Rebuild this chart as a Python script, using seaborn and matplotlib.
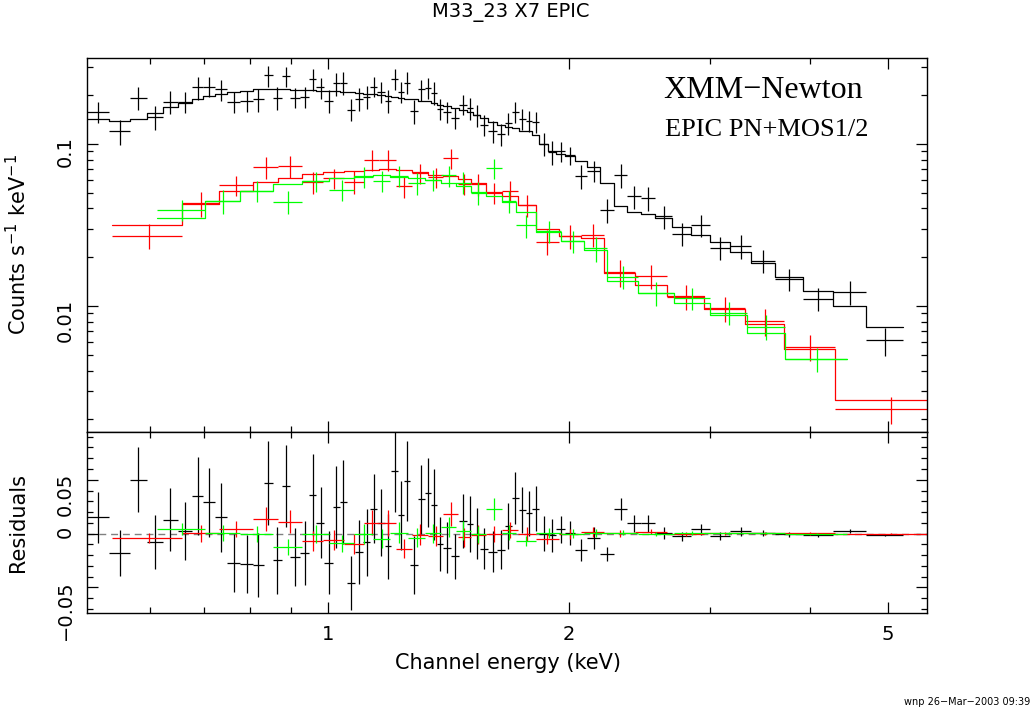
import numpy as np
import matplotlib
matplotlib.use("Agg")
import matplotlib.pyplot as plt
import seaborn as sns
from matplotlib.ticker import NullFormatter

# EPIC pn (black): bin centres (keV), rate (counts/s/keV), 1-sigma error, folded model
pn_energy = [0.516, 0.550, 0.581, 0.608, 0.635, 0.663, 0.688, 0.710, 0.735, 0.763,
             0.792, 0.820, 0.842, 0.864, 0.886, 0.909, 0.936, 0.958, 0.977, 1.003,
             1.026, 1.044, 1.068, 1.096, 1.119, 1.141, 1.165, 1.188, 1.212, 1.237,
             1.255, 1.280, 1.310, 1.333, 1.356, 1.380, 1.408, 1.440, 1.478, 1.504,
             1.535, 1.566, 1.607, 1.644, 1.683, 1.712, 1.752, 1.782, 1.813, 1.861,
             1.904, 1.954, 2.005, 2.070, 2.142, 2.236, 2.322, 2.410, 2.508, 2.619,
             2.766, 2.922, 3.086, 3.279, 3.482, 3.752, 4.090, 4.459, 4.960]
pn_rate = [0.158, 0.120, 0.193, 0.147, 0.182, 0.182, 0.223, 0.226, 0.217, 0.182,
           0.185, 0.188, 0.265, 0.193, 0.261, 0.193, 0.196, 0.250, 0.223, 0.185,
           0.236, 0.239, 0.163, 0.190, 0.196, 0.226, 0.210, 0.185, 0.253, 0.210,
           0.239, 0.160, 0.217, 0.222, 0.207, 0.165, 0.158, 0.145, 0.175, 0.167,
           0.151, 0.131, 0.120, 0.115, 0.135, 0.158, 0.143, 0.139, 0.137, 0.100,
           0.0892, 0.0905, 0.0854, 0.0633, 0.0680, 0.0389, 0.0642, 0.0475, 0.0462, 0.0357,
           0.0280, 0.0314, 0.0229, 0.0236, 0.0190, 0.0147, 0.0111, 0.0122, 0.00615]
pn_error = [0.024, 0.021, 0.030, 0.025, 0.029, 0.027, 0.036, 0.032, 0.032, 0.027,
            0.027, 0.030, 0.039, 0.031, 0.038, 0.027, 0.030, 0.038, 0.033, 0.029,
            0.038, 0.039, 0.025, 0.030, 0.031, 0.032, 0.031, 0.030, 0.038, 0.032,
            0.037, 0.027, 0.032, 0.032, 0.033, 0.025, 0.024, 0.021, 0.025, 0.026,
            0.024, 0.019, 0.019, 0.018, 0.021, 0.024, 0.021, 0.021, 0.021, 0.016,
            0.015, 0.013, 0.011, 0.0105, 0.010, 0.0066, 0.0105, 0.0078, 0.0078, 0.0058,
            0.0045, 0.0049, 0.0037, 0.0040, 0.0031, 0.0023, 0.0018, 0.0020, 0.0012]
pn_model = [0.143, 0.138, 0.143, 0.155, 0.169, 0.180, 0.188, 0.197, 0.202, 0.209,
            0.213, 0.217, 0.218, 0.218, 0.217, 0.215, 0.214, 0.214, 0.213, 0.212,
            0.211, 0.210, 0.209, 0.207, 0.204, 0.203, 0.200, 0.197, 0.195, 0.193,
            0.190, 0.189, 0.185, 0.184, 0.180, 0.175, 0.171, 0.166, 0.163, 0.158,
            0.151, 0.145, 0.137, 0.130, 0.128, 0.125, 0.121, 0.120, 0.114, 0.100,
            0.0909, 0.0867, 0.0846, 0.0784, 0.0723, 0.0578, 0.0414, 0.0380, 0.0367, 0.0350,
            0.0306, 0.0276, 0.0247, 0.0214, 0.0184, 0.0152, 0.01245, 0.0100, 0.00737]

# MOS1 (red): bin edges (keV), rate, error, model
mos1_edges = [0.5375, 0.6574, 0.7308, 0.8064, 0.8662, 0.9280, 0.9857, 1.047, 1.109, 1.158,
              1.216, 1.273, 1.333, 1.392, 1.453, 1.508, 1.575, 1.649, 1.726, 1.818,
              1.942, 2.070, 2.211, 2.417, 2.650, 2.948, 3.317, 3.710, 4.296, 5.800]
mos1_rate = [0.0272, 0.0430, 0.0556, 0.0716, 0.0727, 0.0583, 0.0615, 0.0586, 0.0796, 0.0796,
             0.0551, 0.0658, 0.0624, 0.0815, 0.0570, 0.0564, 0.0501, 0.0513, 0.0418, 0.0250,
             0.0269, 0.0276, 0.0161, 0.0154, 0.0114, 0.00967, 0.00807, 0.00559, 0.00231]
mos1_error = [0.0048, 0.0078, 0.0078, 0.011, 0.011, 0.009, 0.009, 0.0095, 0.012, 0.012,
              0.0085, 0.0095, 0.009, 0.011, 0.0085, 0.0085, 0.0075, 0.0075, 0.0065, 0.0045,
              0.0045, 0.0045, 0.0030, 0.0026, 0.0020, 0.0017, 0.0015, 0.0010, 0.00045]
mos1_model = [0.0314, 0.0428, 0.0513, 0.0583, 0.0615, 0.0651, 0.0673, 0.0683, 0.0693, 0.0700,
              0.0690, 0.0667, 0.0645, 0.0630, 0.0606, 0.0573, 0.0506, 0.0477, 0.0420, 0.0300,
              0.0272, 0.0262, 0.0160, 0.0135, 0.0116, 0.00958, 0.00775, 0.00546, 0.00263]

# MOS2 (green)
mos2_edges = [0.6116, 0.7021, 0.7766, 0.8538, 0.9280, 1.003, 1.078, 1.138, 1.195, 1.259,
              1.322, 1.384, 1.445, 1.508, 1.575, 1.649, 1.717, 1.818, 1.954, 2.088,
              2.230, 2.438, 2.704, 2.999, 3.336, 3.720, 4.446]
mos2_rate = [0.0393, 0.0445, 0.0513, 0.0441, 0.0589, 0.0523, 0.0626, 0.0592, 0.0636, 0.0573,
             0.0600, 0.0640, 0.0578, 0.0501, 0.0706, 0.0445, 0.0314, 0.0290, 0.0251, 0.0228,
             0.0152, 0.0120, 0.0112, 0.00909, 0.00744, 0.00473]
mos2_error = [0.0060, 0.0074, 0.0075, 0.0074, 0.0085, 0.0080, 0.0095, 0.0090, 0.0095, 0.0090,
              0.0090, 0.0095, 0.0090, 0.0080, 0.0100, 0.0070, 0.0050, 0.0045, 0.0040, 0.0040,
              0.0025, 0.0020, 0.0018, 0.0015, 0.0013, 0.0008]
mos2_model = [0.0350, 0.0443, 0.0513, 0.0564, 0.0592, 0.0615, 0.0630, 0.0640, 0.0626, 0.0612,
              0.0598, 0.0578, 0.0551, 0.0506, 0.0477, 0.0438, 0.0382, 0.0287, 0.0253, 0.0223,
              0.0143, 0.0121, 0.0105, 0.0088, 0.00683, 0.00471]

x_major = [1, 2, 5]
x_minor = [0.6, 0.7, 0.8, 0.9, 3, 4]
rate_major = [0.01, 0.1]
rate_minor = [0.002, 0.003, 0.004, 0.005, 0.006, 0.007, 0.008, 0.009,
              0.02, 0.03, 0.04, 0.05, 0.06, 0.07, 0.08, 0.09, 0.2, 0.3]
res_major = [-0.05, 0, 0.05]
res_minor = [-0.07, -0.06, -0.04, -0.03, -0.02, -0.01, 0.01, 0.02, 0.03, 0.04, 0.06, 0.07, 0.08, 0.09]


def edges_from_centres(centres):
    c = np.asarray(centres)
    mid = np.sqrt(c[:-1] * c[1:])
    return np.concatenate([[c[0] ** 2 / mid[0]], mid, [c[-1] ** 2 / mid[-1]]])


def draw_spectrum(ax_top, ax_res, edges, rate, err, model, colour):
    edges = np.asarray(edges)
    rate, err, model = np.asarray(rate), np.asarray(err), np.asarray(model)
    lo, hi = edges[:-1], edges[1:]
    mid = 0.5 * (lo + hi)
    xerr = [mid - lo, hi - mid]
    ax_top.errorbar(mid, rate, xerr=xerr, yerr=err, fmt='none', ecolor=colour,
                    elinewidth=0.9, capsize=0)
    sns.lineplot(x=edges, y=np.append(model, model[-1]), ax=ax_top, color=colour,
                 drawstyle='steps-post', linewidth=0.9, estimator=None, sort=False, legend=False)
    ax_res.errorbar(mid, rate - model, xerr=xerr, yerr=err, fmt='none', ecolor=colour,
                    elinewidth=0.9, capsize=0)


sns.set_theme(style="white")
plt.rcParams['font.family'] = ['DejaVu Sans']
plt.rcParams['axes.linewidth'] = 1.0
plt.rcParams['text.color'] = 'black'
plt.rcParams['axes.labelcolor'] = 'black'
plt.rcParams['xtick.color'] = 'black'
plt.rcParams['ytick.color'] = 'black'

W, H = 1032, 711
fig = plt.figure(figsize=(W / 100, H / 100), dpi=100)
ax_top = fig.add_axes([87 / W, 1 - 432 / H, 840 / W, 374 / H])
ax_res = fig.add_axes([87 / W, 1 - 613 / H, 840 / W, 181 / H])

for ax in (ax_top, ax_res):
    ax.set_xscale('log')
ax_top.set_yscale('log')

draw_spectrum(ax_top, ax_res, edges_from_centres(pn_energy), pn_rate, pn_error, pn_model, '#000000')
draw_spectrum(ax_top, ax_res, mos1_edges, mos1_rate, mos1_error, mos1_model, '#ff0000')
draw_spectrum(ax_top, ax_res, mos2_edges, mos2_rate, mos2_error, mos2_model, '#00ff00')

ax_res.axhline(0, color='#808080', linewidth=1.0, linestyle=(0, (5, 3.5)), zorder=0)

for ax in (ax_top, ax_res):
    ax.set_xlim(0.5, 5.6)
    ax.set_xlabel('')
    ax.set_ylabel('')
    ax.set_xticks(x_major)
    ax.set_xticks(x_minor, minor=True)
    ax.tick_params(which='both', direction='in', top=True, right=True, bottom=True, left=True,
                   colors='black', labelcolor='black', labelsize=14)
    ax.tick_params(which='major', length=8, width=0.9)
    ax.tick_params(which='minor', length=4, width=0.9)
    ax.tick_params(axis='y', labelrotation=90, pad=9)
    for s in ax.spines.values():
        s.set_color('black')

ax_top.set_ylim(0.00167, 0.339)
ax_top.set_yticks(rate_major, ['0.01', '0.1'])
ax_top.set_yticks(rate_minor, minor=True)
ax_top.yaxis.set_minor_formatter(NullFormatter())
ax_top.xaxis.set_major_formatter(NullFormatter())
ax_top.xaxis.set_minor_formatter(NullFormatter())

ax_res.set_ylim(-0.0738, 0.0944)
ax_res.set_yticks(res_major, ['\u22120.05', '0', '0.05'])
ax_res.set_yticks(res_minor, minor=True)
ax_res.set_xticklabels(['1', '2', '5'])
ax_res.xaxis.set_minor_formatter(NullFormatter())
ax_res.tick_params(axis='x', pad=9)

fig.text(511 / W, 1 - 12 / H, 'M33_23 X7 EPIC', ha='center', va='center', fontsize=14, color='black')
fig.text(18 / W, 1 - 245 / H, 'Counts s$^{-1}$ keV$^{-1}$', rotation=90, ha='center', va='center',
         fontsize=15, color='black')
fig.text(18 / W, 1 - 523 / H, 'Residuals', rotation=90, ha='center', va='center', fontsize=15, color='black')
fig.text(508 / W, 1 - 663 / H, 'Channel energy (keV)', ha='center', va='center', fontsize=15, color='black')
fig.text(663 / W, 1 - 90 / H, 'XMM\u2212Newton', ha='left', va='center', fontsize=23, color='black',
         family=['Liberation Serif', 'DejaVu Serif'])
fig.text(665 / W, 1 - 130 / H, 'EPIC PN+MOS1/2', ha='left', va='center', fontsize=19, color='black',
         family=['Liberation Serif', 'DejaVu Serif'])
fig.text(1030 / W, 1 - 702 / H, 'wnp 26\u2212Mar\u22122003 09:39', ha='right', va='center', fontsize=7,
         color='black')

fig.savefig('out.png', dpi=100)
